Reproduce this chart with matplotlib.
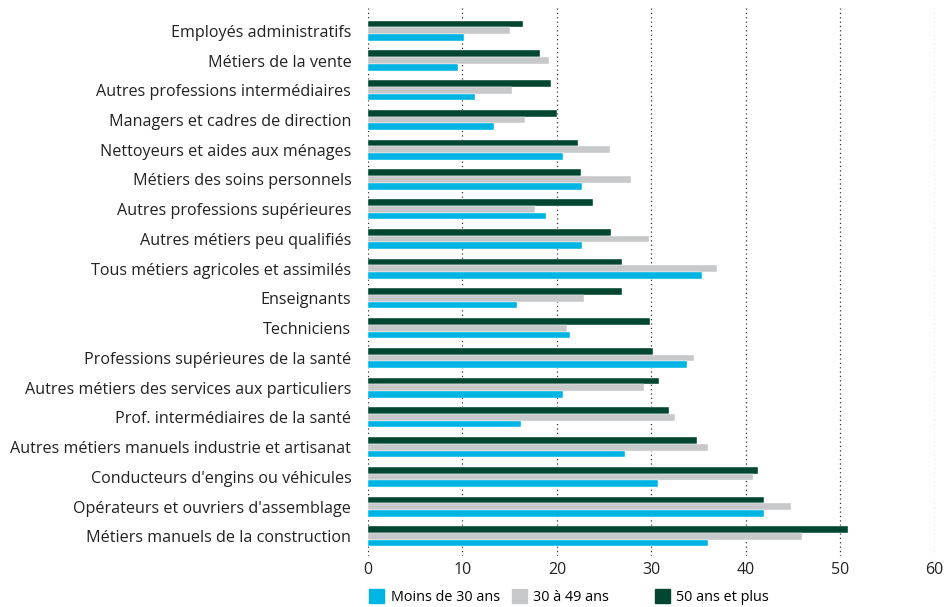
import numpy as np
import matplotlib.pyplot as plt
from matplotlib.patches import Patch

plt.rcParams['font.family'] = ['Open Sans', 'DejaVu Sans']

# --- data ---
categories = [
    "Employés administratifs",
    "Métiers de la vente",
    "Autres professions intermédiaires",
    "Managers et cadres de direction",
    "Nettoyeurs et aides aux ménages",
    "Métiers des soins personnels",
    "Autres professions supérieures",
    "Autres métiers peu qualifiés",
    "Tous métiers agricoles et assimilés",
    "Enseignants",
    "Techniciens",
    "Professions supérieures de la santé",
    "Autres métiers des services aux particuliers",
    "Prof. intermédiaires de la santé",
    "Autres métiers manuels industrie et artisanat",
    "Conducteurs d'engins ou véhicules",
    "Opérateurs et ouvriers d'assemblage",
    "Métiers manuels de la construction",
]
moins_30 = [10.2, 9.5, 11.3, 13.3, 20.6, 22.7, 18.8, 22.7, 35.4, 15.8,
            21.4, 33.8, 20.6, 16.2, 27.2, 30.7, 41.9, 36.0]
de_30_49 = [15.0, 19.2, 15.3, 16.6, 25.6, 27.9, 17.7, 29.8, 37.0, 22.9,
            21.1, 34.5, 29.2, 32.5, 36.0, 40.8, 44.8, 46.0]
plus_50 = [16.4, 18.2, 19.4, 20.0, 22.2, 22.6, 23.8, 25.7, 26.9, 26.9,
           29.9, 30.2, 30.8, 31.9, 34.8, 41.3, 41.9, 50.8]
series_names = ["Moins de 30 ans", "30 à 49 ans", "50 ans et plus"]
x_ticks = [0, 10, 20, 30, 40, 50, 60]

BLUE = '#00B4E4'
GRAY = '#C7C8CA'
GREEN = '#004631'

fig = plt.figure(figsize=(9.46, 6.07), dpi=100)
ax = fig.add_axes([0.389, 0.084, 0.599, 0.903])

y = np.arange(len(categories))
h = 0.225
ax.barh(y - h, plus_50, height=h, color=GREEN, edgecolor='white', linewidth=0.3)
ax.barh(y, de_30_49, height=h, color=GRAY, edgecolor='white', linewidth=0.3)
ax.barh(y + h, moins_30, height=h, color=BLUE, edgecolor='white', linewidth=0.3)

ax.set_xlim(0, 60)
ax.set_ylim(17.66, -0.77)
ax.set_xticks(x_ticks)
ax.set_yticks(y)
ax.set_yticklabels(categories)

for xv in x_ticks:
    ax.axvline(xv, color='#333333', linestyle=(0, (1, 2.5)), linewidth=0.9, zorder=0)

for s in ax.spines.values():
    s.set_visible(False)
ax.tick_params(axis='y', length=0, pad=12, labelsize=11.65, colors='#222222')
ax.tick_params(axis='x', length=0, pad=4, labelsize=11.5, colors='#222222')

# legend: three fixed-width columns below the axis
legend_x = [0.390, 0.541, 0.692]
for name, col, lx in zip(series_names, (BLUE, GRAY, GREEN), legend_x):
    leg = fig.legend([Patch(color=col)], [name], loc='center left',
                     bbox_to_anchor=(lx, 0.016), frameon=False, fontsize=10.4,
                     handlelength=1.05, handleheight=1.05, handletextpad=0.45,
                     borderpad=0, borderaxespad=0)

fig.savefig('out.png', dpi=100)
